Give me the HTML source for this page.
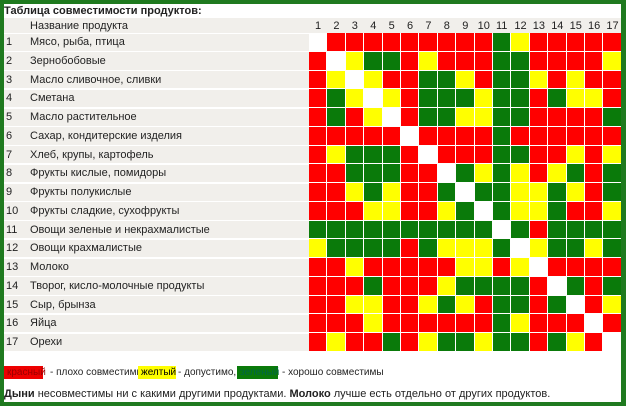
<!DOCTYPE html>
<html><head><meta charset="utf-8"><style>
body{margin:0;width:626px;height:406px;overflow:hidden;background:#1f7a1f;font-family:"Liberation Sans",sans-serif;}
#page{position:absolute;left:4px;top:4px;width:617px;height:398px;background:#fff;}
.t{position:absolute;font-size:11px;color:#222;white-space:nowrap;}
.band{position:absolute;left:0;width:305px;background:#f1efeb;}
.cell{position:absolute;}
.lg{position:absolute;font-size:10px;padding:1px 3px;}
.lt{position:absolute;font-size:10px;color:#222;white-space:nowrap;}
</style></head><body>
<div id="page">
<div class="t" style="left:0;top:1px;font-weight:bold;">Таблица совместимости продуктов:</div>
<div id="grid"></div>
<div class="lg" style="left:0;top:362px;width:33px;background:#e00;color:#900;">красный</div>
<div class="lt" style="left:46px;top:363px;">- плохо совместимы,</div>
<div class="lg" style="left:134px;top:362px;width:32px;background:#ff0;">желтый</div>
<div class="lt" style="left:174px;top:363px;">- допустимо,</div>
<div class="lg" style="left:233px;top:362px;width:35px;background:#0a7a0a;color:#064;">зеленый</div>
<div class="lt" style="left:278px;top:363px;">- хорошо совместимы</div>
<div class="t" style="left:0;top:384px;"><b>Дыни</b> несовместимы ни с какими другими продуктами. <b>Молоко</b> лучше есть отдельно от других продуктов.</div>
</div>
<script>
const products=["Мясо, рыба, птица","Зернобобовые","Масло сливочное, сливки","Сметана","Масло растительное","Сахар, кондитерские изделия","Хлеб, крупы, картофель","Фрукты кислые, помидоры","Фрукты полукислые","Фрукты сладкие, сухофрукты","Овощи зеленые и некрахмалистые","Овощи крахмалистые","Молоко","Творог, кисло-молочные продукты","Сыр, брынза","Яйца","Орехи"];
const matrix=[
"WRRRRRRRRRGYRRRRR",
"RWYGGRYRRRGGRRRRY",
"RYWYRRGGYRGGYRYRR",
"RGYWYRGGGYGGRGYYR",
"RGRYWRGGYYGGRRRRG",
"RRRRRWRRRRGRRRRRR",
"RYGGGRWRRRGGRRYRY",
"RRGGGRRWGYGYRYGRG",
"RRYGYRRGWGGYYGYRG",
"RRRYYRRYGWGYYGRRY",
"GGGGGGGGGGWGRGGGG",
"YGGGGRGYYYGWYGGYG",
"RRYRRRRRYYRYWRRRR",
"RRRGRRRYGGGGRWGRG",
"RRYYRRYGYRGGRGWRY",
"RRRYRRRRRRGYRRRWR",
"RYRRGRYGGYGGRGYRW"];
const colors={R:"#f00",Y:"#ff0",G:"#0a7a0a",W:"#fff"};
const g=document.getElementById('grid');
const x0=305,cw=18.4,y0=29,rh=18.75,hy=14;
function add(el){g.appendChild(el);return el;}
let hb=add(document.createElement('div'));hb.className='band';hb.style.top=hy+'px';hb.style.height=(rh-4)+'px';hb.style.width='617px';


let hn=add(document.createElement('div'));hn.className='t';hn.style.left='26px';hn.style.top=(hy+2)+'px';hn.textContent='Название продукта';


for(let j=0;j<17;j++){
 let h=add(document.createElement('div'));h.className='t';h.style.left=(x0+j*cw+(j<9?6:3))+'px';h.style.top=(hy+2)+'px';h.textContent=j+1;
 
 
}
for(let i=0;i<17;i++){
 const y=y0+i*rh;
 let b=add(document.createElement('div'));b.className='band';b.style.top=(y+0.5)+'px';b.style.height=(rh-1.5)+'px';
 
 
 let n=add(document.createElement('div'));n.className='t';n.style.left='2px';n.style.top=(y+3)+'px';n.textContent=i+1;
 
 
 let l=add(document.createElement('div'));l.className='t';l.style.left='26px';l.style.top=(y+3)+'px';l.textContent=products[i];
 
 
 for(let j=0;j<17;j++){
  let c=add(document.createElement('div'));c.className='cell';
  c.style.left=(x0+j*cw)+'px';c.style.top=y+'px';c.style.width=(cw-1)+'px';c.style.height=(rh-1)+'px';
  c.style.background=colors[matrix[i][j]];
  
  
 }
}
</script>
</body></html>
